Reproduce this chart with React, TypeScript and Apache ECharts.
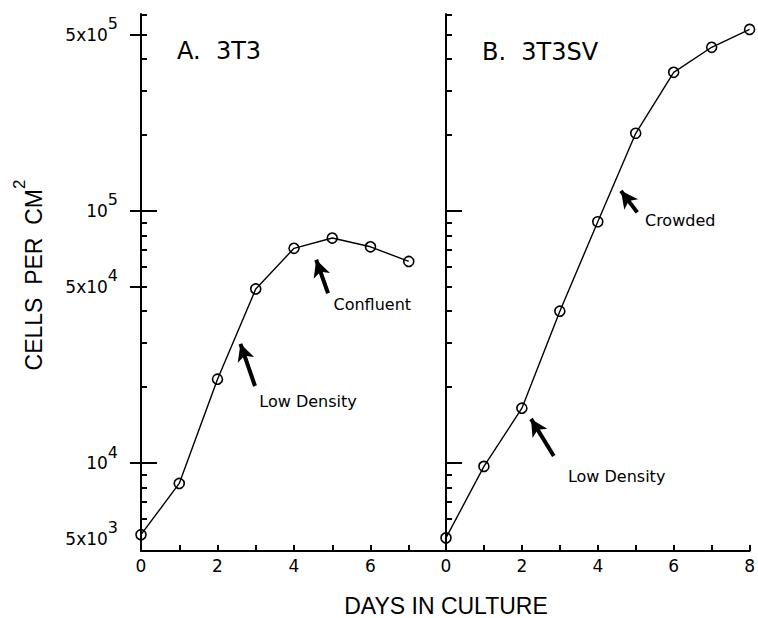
import React, { useEffect, useRef } from 'react';
import * as echarts from 'echarts';

// ---- data (cells per cm^2 vs days in culture) ----
const days = [0, 1, 2, 3, 4, 5, 6, 7, 8];
const cells3T3 = [5200, 8300, 21500, 49000, 71000, 78000, 72000, 63000];
const cells3T3SV = [5050, 9700, 16500, 40000, 90500, 203000, 354000, 445000, 524000];

// ---- axes ----
const yRangeCells = [4480, 603000];
const yLabelCells = [5000, 10000, 50000, 100000, 500000];
const yLabelTexts = ['5x10|3', '10|4', '5x10|4', '10|5', '5x10|5'];
const yMinorTickCells = [6000, 7000, 8000, 9000, 20000, 30000, 40000, 50000, 60000, 70000, 80000, 90000, 200000, 300000, 400000, 500000, 600000];
const yCrossTickCells = [10000, 50000, 100000, 500000];
const yDecadeTickCells = [10000, 100000];
const xRangeDays = [0, 8];
const xTicksA = [1, 2, 3, 4, 5, 6, 7];
const xLabelsA = [0, 2, 4, 6];
const xTicksB = [1, 2, 3, 4, 5, 6, 7, 8];
const xLabelsB = [0, 2, 4, 6, 8];

// ---- annotations (day, cells) ----
const arrowsA = [
  { from: [2.98, 20200], to: [2.6, 29700] },
  { from: [4.89, 47100], to: [4.58, 63970] },
];
const notesA = [
  { text: 'Low Density', at: [3.08, 17460] },
  { text: 'Confluent', at: [5.02, 42660] },
];
const arrowsB = [
  { from: [5.04, 98600], to: [4.61, 120000] },
  { from: [2.84, 10670], to: [2.24, 14960] },
];
const notesB = [
  { text: 'Crowded', at: [5.23, 91600] },
  { text: 'Low Density', at: [3.2, 8810] },
];

const panelTitles = ['A.  3T3', 'B.  3T3SV'];
const xAxisTitle = 'DAYS IN CULTURE';
const yAxisTitle = ['CELLS  PER  CM', '2'];

const lg = (v: number) => Math.log10(v);
const FONT = 'DejaVu Sans';
const BIG = 'Liberation Sans';

function buildOption() {
  const grids = [
    { left: 141, top: 14, width: 306, height: 537 },
    { left: 446, top: 14, width: 309, height: 537 },
  ];

  const xAxis = [
    { ticks: xTicksA, labels: xLabelsA },
    { ticks: xTicksB, labels: xLabelsB },
  ].map((ax, gi) => ({
    type: 'value',
    gridIndex: gi,
    min: xRangeDays[0],
    max: xRangeDays[1],
    splitLine: { show: false },
    axisLine: { show: true, lineStyle: { color: '#000', width: 2 } },
    axisTick: { show: true, inside: true, length: 6, customValues: ax.ticks, lineStyle: { color: '#000', width: 2 } },
    axisLabel: {
      show: true,
      customValues: ax.labels,
      color: '#000',
      fontFamily: FONT,
      fontSize: 17,
      margin: 6,
    },
  }));

  const yBase = (gi: number) => ({
    type: 'value',
    gridIndex: gi,
    min: lg(yRangeCells[0]),
    max: lg(yRangeCells[1]),
    position: 'left',
    splitLine: { show: false },
    axisLine: { show: false },
    axisLabel: { show: false },
    axisTick: { show: false },
  });

  const tickStyle = { color: '#000', width: 2 };

  const yAxis: any[] = [
    {
      ...yBase(0),
      axisLine: { show: true, lineStyle: { color: '#000', width: 2 } },
      axisTick: { show: true, inside: true, length: 6, customValues: yMinorTickCells.map(lg), lineStyle: tickStyle },
      axisLabel: {
        show: true,
        customValues: yLabelCells.map(lg),
        margin: 23,
        formatter: (v: number) => {
          const i = yLabelCells.findIndex((c) => Math.abs(lg(c) - v) < 1e-3);
          if (i < 0) return '';
          const [m, e] = yLabelTexts[i].split('|');
          return `{m|${m}}{e|${e}}`;
        },
        rich: {
          m: { fontFamily: FONT, fontSize: 17, color: '#000' },
          e: { fontFamily: FONT, fontSize: 16, color: '#000', padding: [0, 0, 22, 0] },
        },
      },
    },
    {
      ...yBase(0),
      axisTick: { show: true, inside: false, length: 11, customValues: yCrossTickCells.map(lg), lineStyle: tickStyle },
    },
    {
      ...yBase(0),
      axisTick: { show: true, inside: true, length: 16, customValues: yDecadeTickCells.map(lg), lineStyle: tickStyle },
    },
    {
      ...yBase(1),
      axisLine: { show: true, lineStyle: { color: '#000', width: 2 } },
      axisTick: { show: true, inside: true, length: 6, customValues: yMinorTickCells.map(lg), lineStyle: tickStyle },
    },
    {
      ...yBase(1),
      axisTick: { show: true, inside: true, length: 16, customValues: yDecadeTickCells.map(lg), lineStyle: tickStyle },
    },
  ];

  const makeSeries = (
    name: string,
    values: number[],
    gi: number,
    yi: number,
    arrows: { from: number[]; to: number[] }[],
    notes: { text: string; at: number[] }[]
  ) => ({
    type: 'line',
    name,
    xAxisIndex: gi,
    yAxisIndex: yi,
    data: values.map((c, i) => [days[i], lg(c)]),
    symbol: 'circle',
    symbolSize: 10,
    showSymbol: true,
    lineStyle: { color: '#000', width: 1.4 },
    itemStyle: { color: 'rgba(0,0,0,0)', borderColor: '#000', borderWidth: 1.6 },
    silent: true,
    markLine: {
      silent: true,
      symbol: ['none', 'arrow'],
      symbolSize: [13, 17],
      lineStyle: { color: '#000', width: 4, type: 'solid' },
      itemStyle: { color: '#000' },
      label: { show: false },
      data: arrows.map((a) => [
        { coord: [a.from[0], lg(a.from[1])] },
        { coord: [a.to[0], lg(a.to[1])] },
      ]),
    },
    markPoint: {
      silent: true,
      symbol: 'circle',
      symbolSize: 1,
      itemStyle: { color: 'rgba(0,0,0,0)' },
      label: {
        show: true,
        position: 'right',
        distance: 0,
        formatter: '{b}',
        color: '#000',
        fontFamily: FONT,
        fontSize: 16,
      },
      data: notes.map((n) => ({ name: n.text, coord: [n.at[0], lg(n.at[1])], value: n.at[1] })),
    },
  });

  return {
    animation: false,
    backgroundColor: '#fff',
    grid: grids,
    xAxis,
    yAxis,
    series: [
      makeSeries('3T3', cells3T3, 0, 0, arrowsA, notesA),
      makeSeries('3T3SV', cells3T3SV, 1, 3, arrowsB, notesB),
    ],
    graphic: [
      {
        type: 'text',
        x: 177,
        y: 51,
        style: { text: panelTitles[0], fontFamily: FONT, fontSize: 24, fill: '#000', align: 'left', verticalAlign: 'middle' },
      },
      {
        type: 'text',
        x: 482,
        y: 52,
        style: { text: panelTitles[1], fontFamily: FONT, fontSize: 24, fill: '#000', align: 'left', verticalAlign: 'middle' },
      },
      {
        type: 'text',
        x: 446,
        y: 606,
        style: { text: xAxisTitle, fontFamily: BIG, fontSize: 23, fill: '#000', align: 'center', verticalAlign: 'middle' },
      },
      {
        type: 'text',
        x: 34,
        y: 275,
        rotation: Math.PI / 2,
        style: {
          text: `{a|${yAxisTitle[0]}}{s|${yAxisTitle[1]}}`,
          align: 'center',
          verticalAlign: 'middle',
          rich: {
            a: { fontFamily: BIG, fontSize: 23, fill: '#000', color: '#000' },
            s: { fontFamily: BIG, fontSize: 17, fill: '#000', color: '#000', padding: [0, 0, 30, 0] },
          },
        },
      },
    ],
  };
}

export default function App() {
  const ref = useRef<HTMLDivElement>(null);
  useEffect(() => {
    if (!ref.current) return;
    const chart = echarts.init(ref.current, undefined, { renderer: 'svg' });
    chart.setOption(buildOption() as any);
    return () => chart.dispose();
  }, []);
  return (
    <div
      ref={ref}
      style={{ position: 'fixed', left: 0, top: 0, width: 758, height: 618, background: '#fff' }}
    />
  );
}
